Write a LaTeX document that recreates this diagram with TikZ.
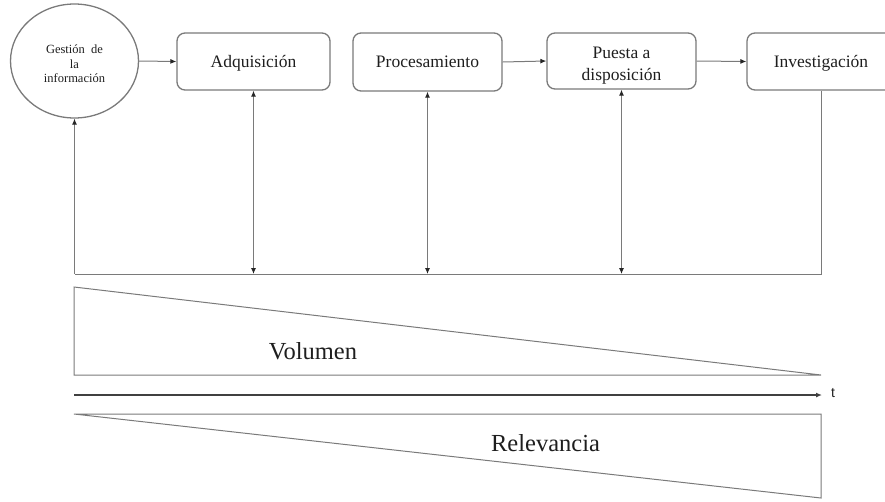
\documentclass[tikz,border=0pt]{standalone}
\usepackage{fontspec}
\setmainfont{Liberation Serif}
\newfontfamily\tfont{Liberation Sans}
\usetikzlibrary{shapes.geometric,arrows.meta}
\definecolor{ln}{HTML}{7A7A7A}
\definecolor{tx}{HTML}{1E1E1E}
\tikzset{
  mytip/.tip={Latex[length=6pt,width=5pt,fill=black!85,color=black!85]},
  boxline/.style={draw=ln, line width=1.3pt},
  stepbox/.style={boxline, rounded corners=8pt, inner sep=0pt, align=center,
     text=tx, font=\fontsize{17.5}{21}\selectfont, text height=13pt, text depth=1.4pt},
  boxtext/.style={inner sep=0pt, align=center, text=tx},
  conn/.style={draw=ln, line width=1pt},
  arr/.style={conn, -{mytip}},
  darr/.style={conn, {mytip}-{mytip}},
  wedge/.style={draw=ln, line width=1pt},
  biglabel/.style={text=tx, font=\fontsize{24.5}{28}\selectfont, inner sep=0pt}
}
\begin{document}
\begin{tikzpicture}[x=1pt,y=-1pt]
\useasboundingbox (0,0) rectangle (885,501);
\clip (0,0) rectangle (885,501);
% top flow
\node[ellipse, boxline, minimum width=128pt, minimum height=114pt, inner sep=0pt] (circ) at (74.5,61) {};
\node[boxtext, font=\fontsize{12.5}{14.5}\selectfont] (circtxt) at ([yshift=-3pt]circ.center) {Gestión\ \ de\\la\\información};
\node[stepbox, minimum width=153pt, minimum height=57pt] (adq) at (253.5,61.5) {Adquisición};
\node[stepbox, minimum width=149pt, minimum height=58pt] (proc) at (427.5,62) {Procesamiento};
\node[boxline, rounded corners=8pt, minimum width=149pt, minimum height=56pt, inner sep=0pt] (pues) at (621.5,61) {};
\node[boxtext, font=\fontsize{17.5}{21.5}\selectfont] (puestxt) at ([yshift=-4.5pt]pues.center) {Puesta a\\disposición};
\node[stepbox, minimum width=148pt, minimum height=57pt] (inv) at (821,61.5) {Investigación};
\draw[arr] (circ.east) -- (adq.west);
\draw[arr] (proc.east) -- (pues.west);
\draw[arr] (pues.east) -- (inv.west);
% feedback line
\coordinate (bl) at (74.5,274);
\coordinate (br) at (821,274);
\draw[conn] (inv.south) -- (br) -- (bl);
\draw[arr] (bl) -- (circ.south);
\draw[darr] (adq.south) -- (adq.south |- bl);
\draw[darr] (proc.south) -- (proc.south |- bl);
\draw[darr] (pues.south) -- (pues.south |- bl);
% volume triangle
\coordinate (v1) at (74,287);
\coordinate (v2) at (74,375);
\coordinate (v3) at (821,375);
\draw[wedge] (v1) -- (v2) -- (v3) -- cycle;
\node[biglabel] (vol) at (313,351) {Volumen};
% time axis
\coordinate (t0) at (74,395);
\coordinate (t1) at (822,395);
\draw[draw=black!75, line width=1.2pt, -{Latex[length=6pt,width=5pt]}] (t0) -- (t1);
\node[text=tx, font=\tfont\fontsize{14}{16}\selectfont, inner sep=0pt] (tl) at (833,393) {t};
% relevance triangle
\coordinate (r1) at (74,414);
\coordinate (r2) at (821,414);
\coordinate (r3) at (821,498);
\draw[wedge] (r1) -- (r2) -- (r3) -- cycle;
\node[biglabel] (rel) at (545.5,443) {Relevancia};
\end{tikzpicture}
\end{document}
